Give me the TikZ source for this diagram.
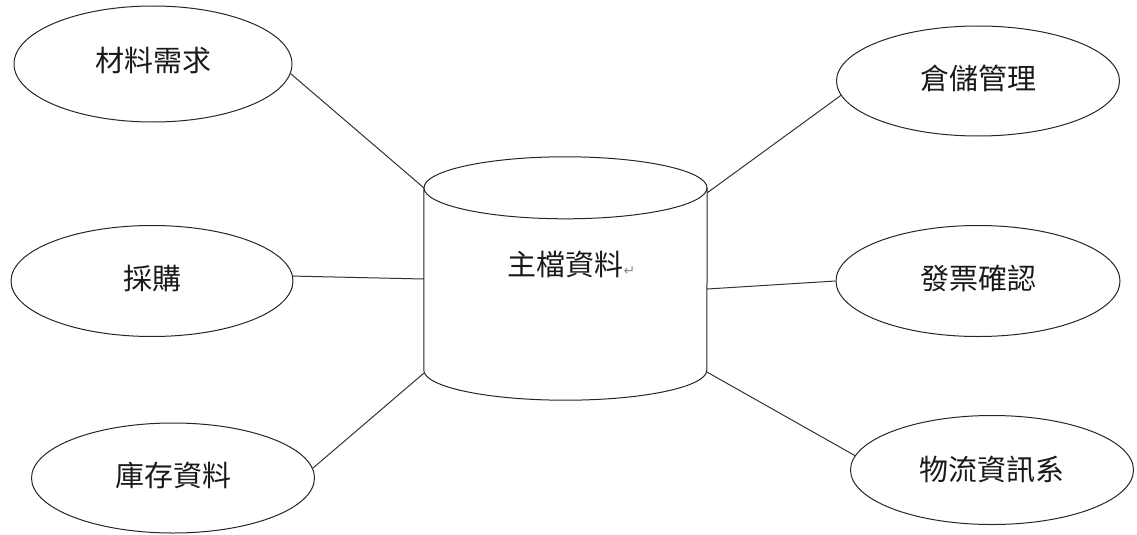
\documentclass[tikz,border=0pt]{standalone}
\usepackage{fontspec}
\newfontfamily\cjk{Noto Sans CJK TC}
\newfontfamily\dv{DejaVu Sans}
\usetikzlibrary{shapes.geometric}
\begin{document}
\begin{tikzpicture}[x=1pt,y=-1pt,
  bubble/.style={ellipse, draw=black!85, line width=1pt, inner sep=0pt,
    font=\cjk\fontsize{29}{31}\selectfont, text=black!90},
  link/.style={draw=black!80, line width=1pt},
  cyl/.style={draw=black!85, line width=1pt}]
\useasboundingbox (0,0) rectangle (1137,535);
% satellite ellipses
\node[bubble, minimum width=278pt, minimum height=116pt] (mat) at (153,64) {\raisebox{9pt}{材料需求}};
\node[bubble, minimum width=282pt, minimum height=111pt] (cai) at (152,281) {\raisebox{8pt}{採購}};
\node[bubble, minimum width=283pt, minimum height=110pt] (ku) at (173,478) {\raisebox{8pt}{庫存資料}};
\node[bubble, minimum width=283pt, minimum height=110pt] (cang) at (978,81) {\raisebox{8pt}{倉儲管理}};
\node[bubble, minimum width=284pt, minimum height=111pt] (fa) at (978,281) {\raisebox{7pt}{發票確認}};
\node[bubble, minimum width=283pt, minimum height=109pt] (wu) at (992,470) {\raisebox{4pt}{物流資訊系}};
% central cylinder body
\node[rectangle, inner sep=0pt, minimum width=283pt, minimum height=182pt,
  font=\cjk\fontsize{29}{31}\selectfont, text=black!90] (main) at (565.5,279)
  {\raisebox{31pt}{主檔資料\makebox[0pt][l]{\dv\fontsize{14}{14}\selectfont\color{black!45}↵}}};
\draw[cyl] (main.north west) -- (main.south west)
  arc[start angle=180, end angle=360, x radius=141.5pt, y radius=30pt] -- (main.north east);
\draw[cyl] (main.north) ellipse [x radius=141.5pt, y radius=31pt];
% connectors
\draw[link] (mat.-4) -- (main.north west);
\draw[link] (cai.2) -- (main.west);
\draw[link] (ku.4) -- ([yshift=-3pt]main.south west);
\draw[link] (cang.186) -- ([yshift=-5pt]main.north east);
\draw[link] (fa.180) -- ([yshift=-10pt]main.east);
\draw[link] (wu.174) -- ([yshift=-2pt]main.south east);
\end{tikzpicture}
\end{document}
